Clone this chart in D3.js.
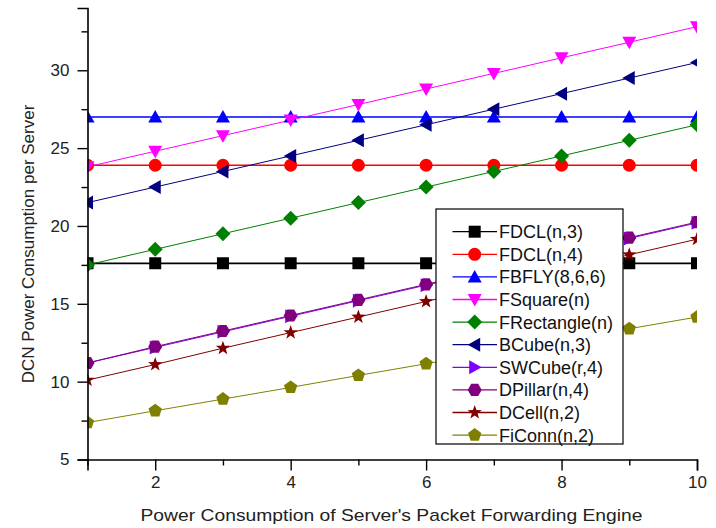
<!DOCTYPE html>
<html><head><meta charset="utf-8">
<script src="https://cdn.jsdelivr.net/npm/d3@7"></script>
<style>
body{margin:0;background:#fff;}
text{font-family:Arial,"Liberation Sans",sans-serif;}
</style></head>
<body>
<svg id="chart" width="716" height="528"></svg>
<script>
const xValues = [1,2,3,4,5,6,7,8,9,10];
const seriesNames = ["FDCL(n,3)","FDCL(n,4)","FBFLY(8,6,6)","FSquare(n)","FRectangle(n)","BCube(n,3)","SWCube(r,4)","DPillar(n,4)","DCell(n,2)","FiConn(n,2)"];
const fdcl3 = [17.6,17.6,17.6,17.6,17.6,17.6,17.6,17.6,17.6,17.6];
const fdcl4 = [23.9,23.9,23.9,23.9,23.9,23.9,23.9,23.9,23.9,23.9];
const fbfly = [27,27,27,27,27,27,27,27,27,27];
const fsquare = [23.8,24.8,25.8,26.8,27.8,28.8,29.8,30.8,31.8,32.8];
const frectangle = [17.5,18.5,19.5,20.5,21.5,22.5,23.5,24.5,25.5,26.5];
const bcube = [21.5,22.5,23.5,24.5,25.5,26.5,27.5,28.5,29.5,30.5];
const swcube = [11.2,12.2,13.2,14.2,15.2,16.2,17.2,18.2,19.2,20.2];
const dpillar = [11.2,12.25,13.25,14.25,15.25,16.25,17.25,18.25,19.25,20.25];
const dcell = [10.1,11.1,12.15,13.15,14.15,15.15,16.15,17.15,18.15,19.15];
const ficonn = [7.37,8.13,8.88,9.63,10.4,11.15,11.9,12.65,13.4,14.15];
const xMajorTicks = [2,4,6,8,10];
const xMinorTicks = [1,3,5,7,9];
const yMajorTicks = [5,10,15,20,25,30];
const yMinorTicks = [7.5,12.5,17.5,22.5,27.5,32.5];
const xTitle = "Power Consumption of Server's Packet Forwarding Engine";
const yTitle = "DCN Power Consumption per Server";

const seriesData = [fdcl3,fdcl4,fbfly,fsquare,frectangle,bcube,swcube,dpillar,dcell,ficonn];
const colors = ["#000000","#ff0000","#0000ff","#ff00ff","#008000","#000080","#8000ff","#800080","#800000","#808000"];
const shapes = ["square","circle","triUp","triDown","diamond","triLeft","triRight","hexagon","star","pentagon"];
const widths = [1.6,1.6,1.6,1,1,1,1,1,1,1];

const svg = d3.select("#chart");
const L = 87.5, R = 697, T = 8, B = 459.5;
const x = d3.scaleLinear().domain([1,10]).range([L,R]);
const y = d3.scaleLinear().domain([5,34]).range([B,T]);

function poly(pts){return "M"+pts.map(p=>p[0].toFixed(2)+","+p[1].toFixed(2)).join("L")+"Z";}
function ngon(n,r,rot){const a=[];for(let i=0;i<n;i++){const t=rot+i*2*Math.PI/n;a.push([r*Math.cos(t),r*Math.sin(t)]);}return a;}
function shapePath(s){
  switch(s){
    case "square": return poly([[-6,-6],[6,-6],[6,6],[-6,6]]);
    case "circle": return "M6.5,0A6.5,6.5 0 1,1 -6.5,0A6.5,6.5 0 1,1 6.5,0Z";
    case "triUp": return poly([[0,-7],[7,5.5],[-7,5.5]]);
    case "triDown": return poly([[0,7],[7,-5.5],[-7,-5.5]]);
    case "triLeft": return poly([[-7,0],[5.5,-7],[5.5,7]]);
    case "triRight": return poly([[7,0],[-5.5,-7],[-5.5,7]]);
    case "diamond": return poly([[0,-7.5],[7.5,0],[0,7.5],[-7.5,0]]);
    case "hexagon": return poly(ngon(6,7,0));
    case "pentagon": return poly(ngon(5,7,-Math.PI/2));
    case "star": {const a=[];for(let i=0;i<10;i++){const r=i%2?3:7.5;const t=-Math.PI/2+i*Math.PI/5;a.push([r*Math.cos(t),r*Math.sin(t)]);}return poly(a);}
  }
}

svg.append("clipPath").attr("id","clip").append("rect")
  .attr("x",L).attr("y",T).attr("width",R-L).attr("height",B-T);

const plot = svg.append("g").attr("clip-path","url(#clip)");
const line = d3.line().x((d,i)=>x(xValues[i])).y(d=>y(d));
seriesData.forEach((data,k)=>{
  plot.append("path").datum(data).attr("d",line)
    .attr("fill","none").attr("stroke",colors[k]).attr("stroke-width",widths[k]);
});
seriesData.forEach((data,k)=>{
  plot.selectAll(null).data(data).enter().append("path")
    .attr("d",shapePath(shapes[k]))
    .attr("transform",(d,i)=>`translate(${x(xValues[i])},${y(d)})`)
    .attr("fill",colors[k]);
});

// axes
const fs = 17;
svg.append("g").attr("transform",`translate(0,${B})`)
  .call(d3.axisBottom(x).tickValues(xMajorTicks).tickSize(11).tickPadding(5).tickFormat(d3.format("d")));
svg.append("g").attr("transform",`translate(0,${B})`)
  .call(d3.axisBottom(x).tickValues(xMinorTicks).tickSize(6).tickFormat(""))
  .select(".domain").remove();
svg.append("g").attr("transform",`translate(${L},0)`)
  .call(d3.axisLeft(y).tickValues(yMajorTicks).tickSize(10).tickPadding(8).tickFormat(d3.format("d")));
svg.append("g").attr("transform",`translate(${L},0)`)
  .call(d3.axisLeft(y).tickValues(yMinorTicks).tickSize(6).tickFormat(""))
  .select(".domain").remove();
svg.selectAll(".domain").attr("stroke","#000").attr("stroke-width",1.6);
svg.selectAll(".tick line").attr("stroke","#000").attr("stroke-width",1.4);
svg.selectAll(".tick text").attr("font-size",fs).attr("fill","#222")
  .attr("font-family","Arial, 'Liberation Sans', sans-serif");

// titles
svg.append("text").attr("x",391.5).attr("y",521).attr("text-anchor","middle")
  .attr("font-size",17).attr("fill","#222")
  .attr("textLength",502).attr("lengthAdjust","spacingAndGlyphs").text(xTitle);
svg.append("text").attr("transform","translate(34,244) rotate(-90)").attr("text-anchor","middle")
  .attr("font-size",17).attr("fill","#222").text(yTitle);

// legend
const lg = svg.append("g");
lg.append("rect").attr("x",436).attr("y",209).attr("width",187).attr("height",235)
  .attr("fill","#fff").attr("stroke","#000").attr("stroke-width",1.2);
seriesNames.forEach((name,k)=>{
  const yy = 231.7 + k*22.6;
  lg.append("line").attr("x1",452.5).attr("x2",497).attr("y1",yy).attr("y2",yy)
    .attr("stroke",colors[k]).attr("stroke-width",1.3);
  lg.append("path").attr("d",shapePath(shapes[k])).attr("transform",`translate(474.7,${yy})`).attr("fill",colors[k]);
  lg.append("text").attr("x",499).attr("y",yy+6.5).attr("font-size",18).attr("fill","#111").text(name);
});
</script>
</body></html>
